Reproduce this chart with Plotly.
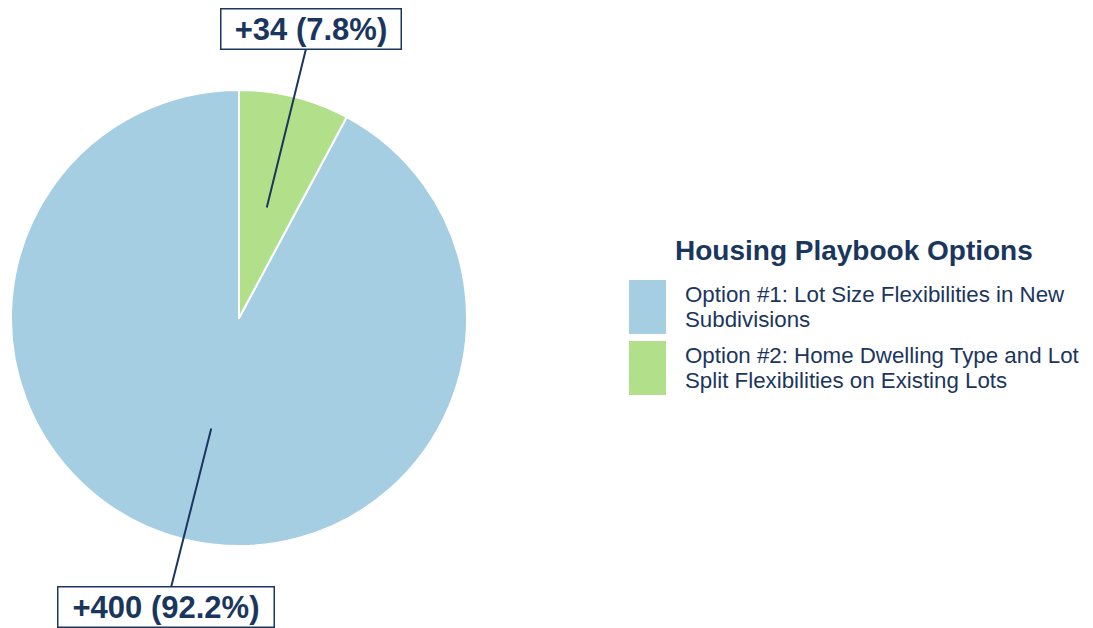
import math
import plotly.graph_objects as go

W, H = 1093, 628

options = [
    ["Option #1: Lot Size Flexibilities in New", "Subdivisions"],
    ["Option #2: Home Dwelling Type and Lot", "Split Flexibilities on Existing Lots"],
]
units = [400, 34]
colors = ["#a6cee3", "#b2df8a"]
navy = "#1b365d"
font = "Arial, Liberation Sans, sans-serif"

total = sum(units)
shares = [u / total * 100 for u in units]

# page body adds 8px, so everything is placed 8px up/left
off = 8
# pie geometry in pixels (margins are zero, so paper == pixels)
cx, cy, r = 239 - off, 318 - off, 228
rot = 360 * units[1] / total  # option #2 starts at 12 o'clock

fig = go.Figure(go.Pie(
    labels=[" ".join(o) for o in options],
    values=units,
    sort=False,
    direction="clockwise",
    rotation=rot,
    marker=dict(colors=colors, line=dict(color="white", width=2)),
    textinfo="none",
    showlegend=False,
    domain=dict(x=[(cx - r) / W, (cx + r) / W], y=[1 - (cy + r) / H, 1 - (cy - r) / H]),
    hovertemplate="%{label}<br>%{value} (%{percent})<extra></extra>",
))

# callout labels pointing at each slice mid-angle, half radius
start = rot
offsets = [(-45, 178), (44, -178)]
box_w = [213, 177]
for u, s, (ax, ay), bw in zip(units, shares, offsets, box_w):
    sweep = 360 * u / total
    mid = math.radians(start + sweep / 2)
    start += sweep
    px_ = cx + 0.5 * r * math.sin(mid)
    py_ = cy - 0.5 * r * math.cos(mid)
    fig.add_annotation(
        x=px_ / W, y=1 - py_ / H, xref="paper", yref="paper",
        text=f"<b>+{u} ({s:.1f}%)</b>",
        showarrow=True, arrowhead=0, arrowwidth=2, arrowcolor=navy,
        ax=ax, ay=ay, width=bw, height=37,
        font=dict(size=31, color=navy, family=font),
        bgcolor="white", bordercolor=navy, borderwidth=1.5, borderpad=1,
    )

# legend drawn by hand for large swatches
fig.add_annotation(
    x=(673 - off) / W, y=1 - (250 - off) / H, xref="paper", yref="paper",
    xanchor="left", yanchor="middle", showarrow=False,
    text="<b>Housing Playbook Options</b>",
    font=dict(size=28, color=navy, family=font),
)
tops = [280 - off, 341 - off]
for lines, col, top in zip(options, colors, tops):
    fig.add_shape(
        type="rect", xref="paper", yref="paper",
        x0=(629 - off) / W, x1=(666 - off) / W, y0=1 - top / H, y1=1 - (top + 54) / H,
        fillcolor=col, line=dict(width=0),
    )
    for i, line in enumerate(lines):
        fig.add_annotation(
            x=(683 - off) / W, y=1 - (top + 14 + 25 * i) / H, xref="paper", yref="paper",
            xanchor="left", yanchor="middle", align="left", showarrow=False,
            text=line, font=dict(size=22.3, color=navy, family=font),
        )

fig.update_layout(
    width=W, height=H,
    margin=dict(l=0, r=0, t=0, b=0),
    paper_bgcolor="white",
    plot_bgcolor="white",
    font=dict(family=font),
)

fig.write_html("out.html")
